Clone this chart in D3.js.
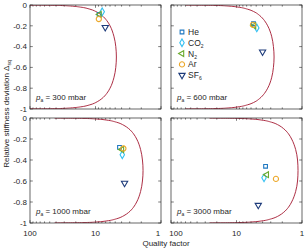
<!DOCTYPE html>
<html>
<head>
<meta charset="utf-8">
<script src="https://cdn.jsdelivr.net/npm/d3@7"></script>
<style>
  body { margin: 0; background: #fff; }
  svg { display: block; font-family: "Liberation Sans", Arial, sans-serif; }
</style>
</head>
<body>
<svg id="chart"></svg>
<script>
// ambient pressure of each panel (mbar)
const pressures = [300, 600, 1000, 3000];
const gases = ['He', 'CO2', 'N2', 'Ar', 'SF6'];

// measured points, one value per panel (300, 600, 1000, 3000 mbar)
const qHe  = [8.8, 5.5, 4.3, 3.6];
const dHe  = [-0.09, -0.18, -0.28, -0.46];
const qCO2 = [7.9, 4.9, 3.9, 3.8];
const dCO2 = [-0.065, -0.22, -0.35, -0.57];
const qN2  = [8.7, 5.4, 3.95, 3.45];
const dN2  = [-0.09, -0.20, -0.30, -0.54];
const qAr  = [8.9, 5.6, 3.75, 2.5];
const dAr  = [-0.135, -0.19, -0.29, -0.58];
const qSF6 = [7.1, 4.0, 3.6, 4.65];
const dSF6 = [-0.215, -0.45, -0.62, -0.83];

const curveDelta = [-0.0005, -0.002, -0.005, -0.01, -0.02, -0.04, -0.07, -0.1, -0.15, -0.2, -0.3, -0.4, -0.5,
                    -0.6, -0.7, -0.8, -0.85, -0.9, -0.93, -0.96, -0.98, -0.99, -0.995, -0.998, -0.9995];
const curveQ300  = [107.5, 53.7, 34.0, 24.1, 17.1, 12.2, 9.4, 8.0, 6.72, 6.0, 5.24, 4.9, 4.8,
                    4.9, 5.24, 6.0, 6.72, 8.0, 9.4, 12.2, 17.1, 24.1, 34.0, 53.7, 107.5];
const curveQ600  = [59.8, 29.9, 18.9, 13.4, 9.5, 6.8, 5.2, 4.45, 3.74, 3.34, 2.91, 2.73, 2.67,
                    2.73, 2.91, 3.34, 3.74, 4.45, 5.2, 6.8, 9.5, 13.4, 18.9, 29.9, 59.8];
const curveQ1000 = [42.1, 21.0, 13.3, 9.46, 6.71, 4.79, 3.68, 3.13, 2.63, 2.35, 2.05, 1.92, 1.88,
                    1.92, 2.05, 2.35, 2.63, 3.13, 3.68, 4.79, 6.71, 9.46, 13.3, 21.0, 42.1];
const curveQ3000 = [25.8, 12.9, 8.15, 5.78, 4.1, 2.93, 2.25, 1.92, 1.61, 1.44, 1.25, 1.17, 1.15,
                    1.17, 1.25, 1.44, 1.61, 1.92, 2.25, 2.93, 4.1, 5.78, 8.15, 12.9, 25.8];

const xTicks = [100, 10, 1];
const yTicks = [0, -0.2, -0.4, -0.6, -0.8, -1];

const W = 305, H = 250;
const svg = d3.select('#chart').attr('width', W).attr('height', H);

// panel boxes
const cols = [[30, 161], [171, 302]];
const rows = [[5, 109], [118, 223]];

const gasStyle = {
  He:  { sym: d3.symbolSquare,   rot: 0,   size: 14, color: '#1f78c1', label: ['He'] },
  CO2: { sym: d3.symbolDiamond,  rot: 0,   size: 17, color: '#33c0f2', label: ['CO', '2'] },
  N2:  { sym: d3.symbolTriangle, rot: -90, size: 15, color: '#6aaa2c', label: ['N', '2'] },
  Ar:  { sym: d3.symbolCircle,   rot: 0,   size: 21, color: '#eca82a', label: ['Ar'] },
  SF6: { sym: d3.symbolTriangle, rot: 180, size: 17, color: '#1c3a7a', label: ['SF', '6'] }
};
const gasQ = { He: qHe, CO2: qCO2, N2: qN2, Ar: qAr, SF6: qSF6 };
const gasD = { He: dHe, CO2: dCO2, N2: dN2, Ar: dAr, SF6: dSF6 };
const curves = [curveQ300, curveQ600, curveQ1000, curveQ3000];

function marker(g, gas) {
  let st = gasStyle[gas];
  return g.append('path')
    .attr('d', d3.symbol().type(st.sym).size(st.size)())
    .attr('fill', 'none')
    .attr('stroke', st.color)
    .attr('stroke-width', 1.1);
}

pressures.forEach((p, i) => {
  let [x0, x1] = cols[i % 2];
  let [y0, y1] = rows[Math.floor(i / 2)];
  let isLeft = i % 2 === 0, isBottom = i >= 2;

  let x = d3.scaleLog().domain([100, 1]).range([x0, x1]);
  let y = d3.scaleLinear().domain([0, -1]).range([y0, y1]);

  let g = svg.append('g');

  svg.append('clipPath').attr('id', 'clip' + i)
    .append('rect').attr('x', x0).attr('y', y0).attr('width', x1 - x0).attr('height', y1 - y0);

  // minor + major ticks, inward, on all four sides
  let minor = [];
  for (let dec of [1, 10]) for (let k = 2; k <= 9; k++) minor.push(dec * k);
  let tickG = g.append('g').attr('stroke', '#262626').attr('stroke-width', 0.6);
  minor.forEach(v => {
    tickG.append('line').attr('x1', x(v)).attr('x2', x(v)).attr('y1', y1).attr('y2', y1 - 1.6);
    tickG.append('line').attr('x1', x(v)).attr('x2', x(v)).attr('y1', y0).attr('y2', y0 + 1.6);
  });
  xTicks.forEach(v => {
    tickG.append('line').attr('x1', x(v)).attr('x2', x(v)).attr('y1', y1).attr('y2', y1 - 2.8);
    tickG.append('line').attr('x1', x(v)).attr('x2', x(v)).attr('y1', y0).attr('y2', y0 + 2.8);
  });
  yTicks.forEach(v => {
    tickG.append('line').attr('x1', x0).attr('x2', x0 + 2.8).attr('y1', y(v)).attr('y2', y(v));
    tickG.append('line').attr('x1', x1).attr('x2', x1 - 2.8).attr('y1', y(v)).attr('y2', y(v));
  });

  // model curve
  let line = d3.line()
    .x((d, j) => x(curves[i][j]))
    .y(d => y(d))
    .curve(d3.curveMonotoneY);
  g.append('path')
    .datum(curveDelta)
    .attr('clip-path', `url(#clip${i})`)
    .attr('d', line)
    .attr('fill', 'none')
    .attr('stroke', '#a3162f')
    .attr('stroke-width', 0.9);

  // frame
  g.append('rect')
    .attr('x', x0).attr('y', y0).attr('width', x1 - x0).attr('height', y1 - y0)
    .attr('fill', 'none').attr('stroke', '#262626').attr('stroke-width', 0.7);

  // measured points
  gases.forEach(gas => {
    marker(g, gas)
      .attr('transform', `translate(${x(gasQ[gas][i])},${y(gasD[gas][i])}) rotate(${gasStyle[gas].rot})`);
  });

  // tick labels
  if (isLeft) {
    yTicks.forEach(v => {
      g.append('text')
        .attr('x', x0 - 3).attr('y', y(v)).attr('dy', '0.35em')
        .attr('text-anchor', 'end')
        .style('font-size', '8px').attr('fill', '#262626')
        .text(v);
    });
  }
  if (isBottom) {
    xTicks.forEach(v => {
      let tx = x(v);
      if (isLeft && v === 1) tx -= 3;
      if (!isLeft && v === 100) tx += 5;
      g.append('text')
        .attr('x', tx).attr('y', y1 + 13)
        .attr('text-anchor', 'middle')
        .style('font-size', '8px').attr('fill', '#262626')
        .text(v);
    });
  }

  // pressure annotation
  let ann = g.append('text')
    .attr('x', x0 + 6).attr('y', y1 - 9)
    .style('font-size', '8px').attr('fill', '#262626');
  ann.append('tspan').style('font-style', 'italic').text('p');
  ann.append('tspan').attr('dy', 1.8).style('font-size', '5px').text('a');
  ann.append('tspan').attr('dy', -1.8).text(` = ${p} mbar`);

  // legend in the 600 mbar panel
  if (i === 1) {
    gases.forEach((gas, k) => {
      let ly = 32 + k * 10.8;
      marker(g, gas)
        .attr('transform', `translate(${x0 + 11},${ly}) rotate(${gasStyle[gas].rot})`);
      let t = g.append('text')
        .attr('x', x0 + 17).attr('y', ly).attr('dy', '0.35em')
        .style('font-size', '8.5px').attr('fill', '#262626');
      let lab = gasStyle[gas].label;
      t.append('tspan').text(lab[0]);
      if (lab[1]) t.append('tspan').attr('dy', 2).style('font-size', '5px').text(lab[1]);
    });
  }
});

// axis titles
let yt = svg.append('text')
  .attr('transform', `translate(9,114) rotate(-90)`)
  .attr('text-anchor', 'middle')
  .style('font-size', '8px').attr('fill', '#262626');
yt.append('tspan').text('Relative stiffness deviation Δ');
yt.append('tspan').attr('dy', 1.8).style('font-size', '5px').text('sq');

svg.append('text')
  .attr('x', 166).attr('y', 246)
  .attr('text-anchor', 'middle')
  .style('font-size', '8px').attr('fill', '#262626')
  .text('Quality factor');
</script>
</body>
</html>
